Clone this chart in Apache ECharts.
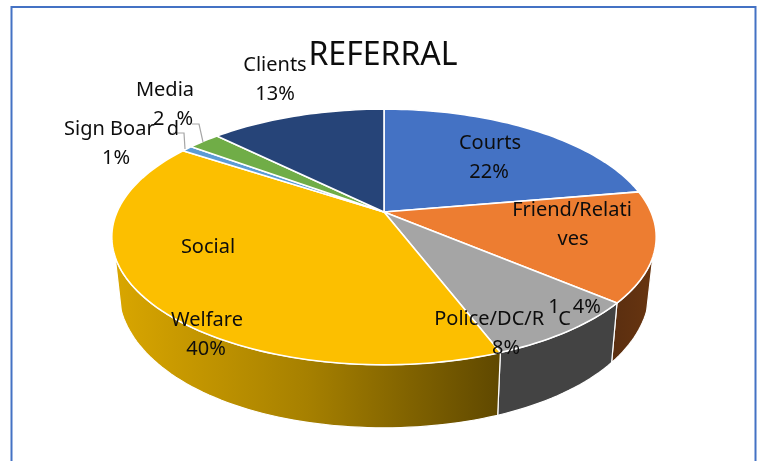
<!DOCTYPE html>
<html>
<head>
<meta charset="utf-8">
<style>html,body{margin:0;padding:0;background:#fff}#c{width:760px;height:461px}</style>
<script src="https://cdn.jsdelivr.net/npm/echarts@6/dist/echarts.min.js"></script>
</head>
<body>
<div id="c"></div>
<script>
const chartTitle = 'REFERRAL';
const categories = ['Courts', 'Friend/Relatives', 'Police/DC/RIC', 'Social Welfare', 'Sign Board', 'Media', 'Clients'];
const shares = [22.3, 13.9, 8.0, 40.1, 0.8, 2.3, 12.6];
const topColors = ['#4472c4', '#ed7d31', '#a5a5a5', '#fcbf00', '#5b9bd5', '#70ad47', '#264478'];

const TILT = 0.195, VISIBLE = [110, 250];
const cumulative = shares.reduce((a, v) => (a.push(a[a.length - 1] + v), a), [0]);
const total = cumulative[cumulative.length - 1];
const deg = p => p / total * 360;
function rim(a) {
  const r = a * Math.PI / 180, w = -Math.cos(r), q = 1 - TILT * w;
  return [Math.sin(r) / q, w / q, w];
}
function floor(a) {
  const [x, y, w] = rim(a);
  const d = (63 - 17 * Math.pow(Math.max(0, 1 - w), 1.5)) / 123;
  return [x * 0.977, y + d];
}
function arc(a0, a1, f) {
  const n = Math.max(2, Math.ceil(Math.abs(a1 - a0) / 1.5)), out = [];
  for (let i = 0; i <= n; i++) out.push(f(a0 + (a1 - a0) * i / n));
  return out;
}
function wallFill(i) {
  if (i === 1) return new echarts.graphic.LinearGradient(0, 0, 1, 0, [{offset: 0, color: '#5a2e10'}, {offset: 1, color: '#683510'}]);
  if (i === 2) return '#434343';
  return new echarts.graphic.LinearGradient(0, 0, 1, 0, [
    {offset: 0, color: '#d9a600'}, {offset: 0.5, color: '#a68000'}, {offset: 1, color: '#5f4800'}]);
}
function renderWall(params, api) {
  const i = params.dataIndex;
  const a0 = Math.max(deg(cumulative[i]), VISIBLE[0]), a1 = Math.min(deg(cumulative[i + 1]), VISIBLE[1]);
  if (a1 <= a0) return null;
  const pts = arc(a0, a1, rim).concat(arc(a1, a0, floor)).map(p => api.coord(p));
  return {type: 'polygon', shape: {points: pts}, style: {fill: wallFill(i), stroke: '#fff', lineWidth: 1.2}};
}
function renderTop(params, api) {
  const i = params.dataIndex;
  const pts = [[0, 0]].concat(arc(deg(cumulative[i]), deg(cumulative[i + 1]), rim)).map(p => api.coord(p));
  return {type: 'polygon', shape: {points: pts}, style: {fill: topColors[i], stroke: '#fff', lineWidth: 1.6, lineJoin: 'round'}};
}

const FONT = '20px "Noto Sans"';
function txt(x, y, text, extra) {
  return {type: 'text', x: x, y: y, z: 20,
    style: Object.assign({text: text, font: FONT, fill: '#0d0d0d', align: 'center', verticalAlign: 'middle'}, extra || {})};
}
function lead(points) {
  return {type: 'polyline', z: 10, shape: {points: points}, style: {stroke: '#a6a6a6', lineWidth: 1.2, fill: null}};
}
const gap = n => ({padding: [0, 0, 0, n]});

const chart = echarts.init(document.getElementById('c'), null, {renderer: 'canvas'});
chart.setOption({
  animation: false,
  backgroundColor: '#fff',
  grid: {left: 117, width: 534, top: 89, height: 246},
  xAxis: {type: 'value', min: -1, max: 1, show: false},
  yAxis: {type: 'value', min: -1, max: 1, inverse: true, show: false},
  series: [
    {type: 'custom', clip: false, silent: true, z: 2, renderItem: renderWall, data: categories.map((c, i) => ({name: c, value: [0, 0, shares[i]]}))},
    {type: 'custom', clip: false, silent: true, z: 3, renderItem: renderTop, data: categories.map((c, i) => ({name: c, value: [0, 0, shares[i]]}))}
  ],
  graphic: {elements: [
    {type: 'rect', z: 1, shape: {x: 11.5, y: 7, width: 744, height: 470}, style: {fill: null, stroke: '#4472c4', lineWidth: 2}},
    lead([[192, 124], [199, 124], [203, 142]]),
    lead([[173, 133], [184, 133], [185, 149]]),
    txt(383, 56, chartTitle, {font: '32px "Noto Sans"'}),
    txt(490, 143, 'Courts'), txt(489, 172, '22%'),
    txt(572, 210, 'Friend/Relati'), txt(573, 239, 'ves'),
    txt(574.5, 307, '{n|1}{p|4%}', {rich: {n: {font: FONT}, p: Object.assign({font: FONT}, gap(13))}}),
    txt(502.5, 319, '{n|Police/DC/R}{p|C}', {rich: {n: {font: FONT}, p: Object.assign({font: FONT}, gap(14))}}),
    txt(506, 348, '8%'),
    txt(208, 247, 'Social'), txt(207, 320, 'Welfare'), txt(206, 349, '40%'),
    txt(121.5, 129, '{n|Sign Boar}{p|d}', {rich: {n: {font: FONT}, p: Object.assign({font: FONT}, gap(12))}}),
    txt(116, 158, '1%'),
    txt(165, 90, 'Media'),
    txt(173, 119, '{n|2}{p|%}', {rich: {n: {font: FONT}, p: Object.assign({font: FONT}, gap(12))}}),
    txt(275, 65, 'Clients'), txt(275, 94, '13%')
  ]}
});
</script>
</body>
</html>
